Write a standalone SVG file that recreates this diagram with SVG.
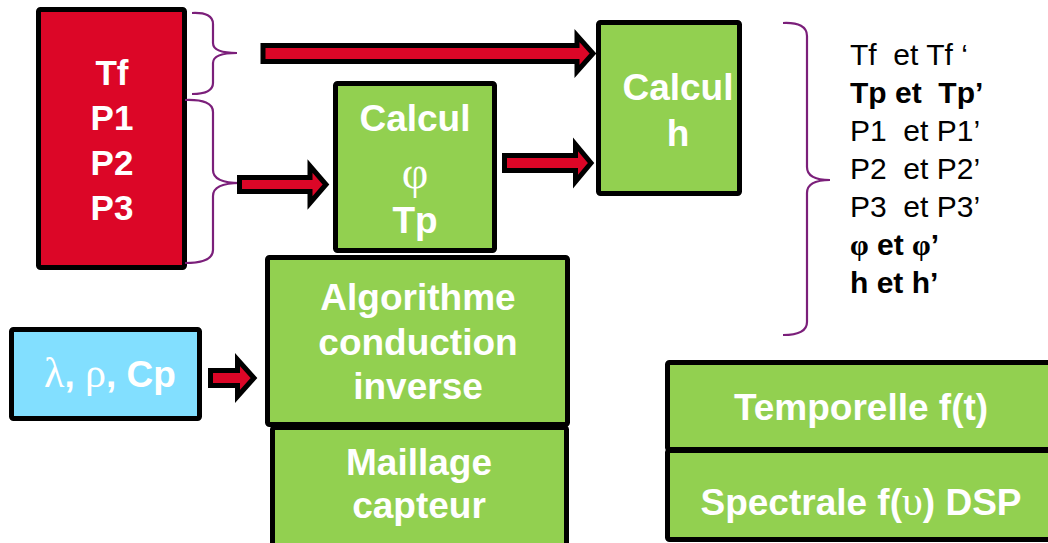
<svg xmlns="http://www.w3.org/2000/svg" width="1048" height="543" viewBox="0 0 1048 543">
<style>
.box{stroke:#000;stroke-width:5;stroke-linejoin:round}
.red{fill:#DC0627}
.green{fill:#92D050}
.blue{fill:#82DFFF}
.arrow{fill:#DC0627;stroke:#000;stroke-width:5;stroke-linejoin:miter;stroke-miterlimit:10}
.brace{fill:none;stroke:#7B1F7A;stroke-width:2.2}
.w{fill:#fff;font-family:"Liberation Sans",Arial,sans-serif;font-weight:bold;font-size:37px;text-anchor:middle}
.sym{font-family:"Liberation Serif","Times New Roman",serif;font-weight:normal}
.list{fill:#000;font-family:"Liberation Sans",Arial,sans-serif;font-size:30px}
.b{font-weight:bold}
</style>
<rect width="1048" height="543" fill="#fff"/>
<g id="inputs">
<rect class="box red" x="38.5" y="9.5" width="146" height="258" rx="2"/>
<text class="w" style="font-size:35px" x="112" y="85">Tf</text>
<text class="w" style="font-size:35px" x="112" y="130">P1</text>
<text class="w" style="font-size:35px" x="112" y="175">P2</text>
<text class="w" style="font-size:35px" x="112" y="220">P3</text>
</g>
<g id="calcul-phi">
<rect class="box green" x="335.5" y="83.5" width="159" height="167" rx="2"/>
<text class="w" x="415" y="131">Calcul</text>
<text class="w sym" style="font-size:46px" x="415" y="188">φ</text>
<text class="w" x="415" y="233">Tp</text>
</g>
<g id="calcul-h">
<rect class="box green" x="598.5" y="22.5" width="141" height="171" rx="2"/>
<text class="w" x="678" y="100">Calcul</text>
<text class="w" x="678" y="146">h</text>
</g>
<g id="algorithme">
<rect class="box green" x="267.5" y="257.5" width="300" height="167" rx="2"/>
<text class="w" x="418" y="310">Algorithme</text>
<text class="w" x="418" y="355">conduction</text>
<text class="w" x="418" y="399">inverse</text>
</g>
<g id="maillage">
<rect class="box green" x="272.5" y="427.5" width="294" height="130" rx="2"/>
<text class="w" x="419" y="475">Maillage</text>
<text class="w" x="419" y="518">capteur</text>
</g>
<g id="proprietes">
<rect class="box blue" x="11.5" y="329.5" width="188" height="89" rx="2"/>
<text class="w" x="110" y="387"><tspan class="sym" style="font-size:42px">λ</tspan>, <tspan class="sym" style="font-size:42px">ρ</tspan>, Cp</text>
</g>
<g id="temporelle">
<rect class="box green" x="667.5" y="362.5" width="392" height="87" rx="2"/>
<text class="w" x="861" y="420">Temporelle f(t)</text>
</g>
<g id="spectrale">
<rect class="box green" x="667.5" y="450.5" width="392" height="89" rx="2"/>
<text class="w" x="861" y="515">Spectrale f(<tspan class="sym" style="font-size:42px">υ</tspan>) DSP</text>
</g>
<g id="liste">
<text class="list" x="850" y="65" xml:space="preserve">Tf  et Tf ‘</text>
<text class="list b" x="850" y="103" xml:space="preserve">Tp et  Tp’</text>
<text class="list" x="850" y="141" xml:space="preserve">P1  et P1’</text>
<text class="list" x="850" y="179" xml:space="preserve">P2  et P2’</text>
<text class="list" x="850" y="217" xml:space="preserve">P3  et P3’</text>
<text class="list b" x="850" y="255"><tspan class="sym" style="font-weight:bold">φ</tspan> et <tspan class="sym" style="font-weight:bold">φ</tspan>’</text>
<text class="list b" x="850" y="293">h et h’</text>
</g>
<g id="connectors">
<path class="brace" d="M192,13 Q213,12 213,24 L213,43 Q213,53 237,53 Q213,53 213,63 L213,83 Q213,94 192,94"/>
<path class="brace" d="M185,100 Q213,99 213,112 L213,170 Q213,183 240,183 Q213,183 213,196 L213,250 Q213,263 185,263"/>
<path class="brace" d="M783,23 Q807,22 807,36 L807,167 Q807,180 830,180 Q807,180 807,193 L807,322 Q807,335 783,335"/>
<polygon class="arrow" points="263,45.5 577,45.5 577,35.5 593,53.5 577,71.5 577,61.5 263,61.5"/>
<polygon class="arrow" points="239.5,177.5 310,177.5 310,166 326,184.5 310,203 310,191.5 239.5,191.5"/>
<polygon class="arrow" points="504.5,155.5 575.5,155.5 575.5,144.5 591,163 575.5,181.5 575.5,170.5 504.5,170.5"/>
<polygon class="arrow" points="210.5,370.5 237.5,370.5 237.5,359.5 254,378 237.5,396.5 237.5,385.5 210.5,385.5"/>
</g>
</svg>
